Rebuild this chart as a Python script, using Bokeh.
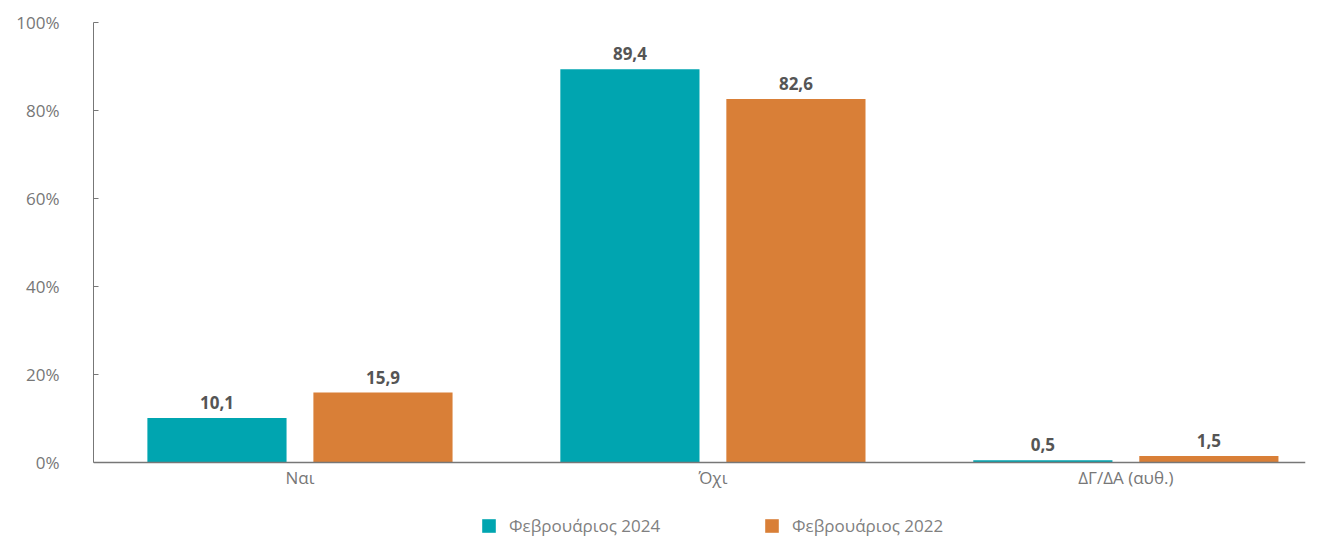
from bokeh.plotting import figure
from bokeh.models import ColumnDataSource, Range1d, FixedTicker, Legend, LegendItem
from bokeh.core.properties import value
from bokeh.embed import file_html
from bokeh.resources import INLINE

categories = ["Ναι", "Όχι", "ΔΓ/ΔΑ (αυθ.)"]
series_names = ["Φεβρουάριος 2024", "Φεβρουάριος 2022"]
feb_2024 = [10.1, 89.4, 0.5]
feb_2022 = [15.9, 82.6, 1.5]
y_ticks = [0, 20, 40, 60, 80, 100]

colors = ["#00A5B0", "#D97F37"]
FONT = "Open Sans"

p = figure(width=1319, height=537, output_backend="svg", toolbar_location=None,
           x_range=Range1d(0, 2.935), y_range=Range1d(-17.05, 100),
           min_border_left=93, min_border_top=22, min_border_right=14,
           min_border_bottom=0)
p.outline_line_color = None
p.xgrid.visible = False
p.ygrid.visible = False

centers = [i + 0.5 for i in range(len(categories))]
offsets = [-0.201, 0.201]
renderers = []
for vals, off, col in zip([feb_2024, feb_2022], offsets, colors):
    src = ColumnDataSource(dict(x=[c + off for c in centers], top=vals,
                                lbl=[f"{v:.1f}".replace(".", ",") for v in vals]))
    r = p.vbar(x="x", top="top", width=0.337, bottom=0, source=src, fill_color=col, line_color=None)
    renderers.append(r)
    p.text(x="x", y="top", text="lbl", source=src, text_align="center", text_baseline="bottom",
           y_offset=-9, text_font=value(FONT), text_font_size="17px", text_font_style="bold",
           text_color="#555555")

# y axis
p.yaxis.ticker = FixedTicker(ticks=y_ticks)
p.yaxis.bounds = (0, 100)
p.yaxis.major_label_overrides = {t: f"{t}%" for t in y_ticks}
p.yaxis.major_tick_in = 5
p.yaxis.major_tick_out = 0
p.yaxis.minor_tick_line_color = None
p.yaxis.axis_line_color = "#777777"
p.yaxis.major_tick_line_color = "#777777"
p.yaxis.major_label_standoff = 34
p.yaxis.major_label_text_font = FONT
p.yaxis.major_label_text_font_size = "17px"
p.yaxis.major_label_text_color = "#777777"

# x axis, pinned at y = 0
p.xaxis.fixed_location = 0
p.xaxis.ticker = FixedTicker(ticks=centers)
p.xaxis.major_label_overrides = {c: n for c, n in zip(centers, categories)}
p.xaxis.major_tick_line_color = None
p.xaxis.minor_tick_line_color = None
p.xaxis.axis_line_color = "#777777"
p.xaxis.axis_line_width = 1.5
p.xaxis.major_label_standoff = -2
p.xaxis.major_label_text_font = FONT
p.xaxis.major_label_text_font_size = "17px"
p.xaxis.major_label_text_color = "#777777"

legend = Legend(items=[LegendItem(label=n, renderers=[r]) for n, r in zip(series_names, renderers)],
                orientation="horizontal", location=(387, 0),
                glyph_width=17, glyph_height=17, label_standoff=12, label_width=254,
                spacing=0, padding=0, margin=0,
                label_text_font=FONT, label_text_font_size="17px", label_text_color="#808080",
                border_line_color=None, background_fill_alpha=0)
p.add_layout(legend, "center")

open("out.html", "w").write(file_html(p, INLINE))
